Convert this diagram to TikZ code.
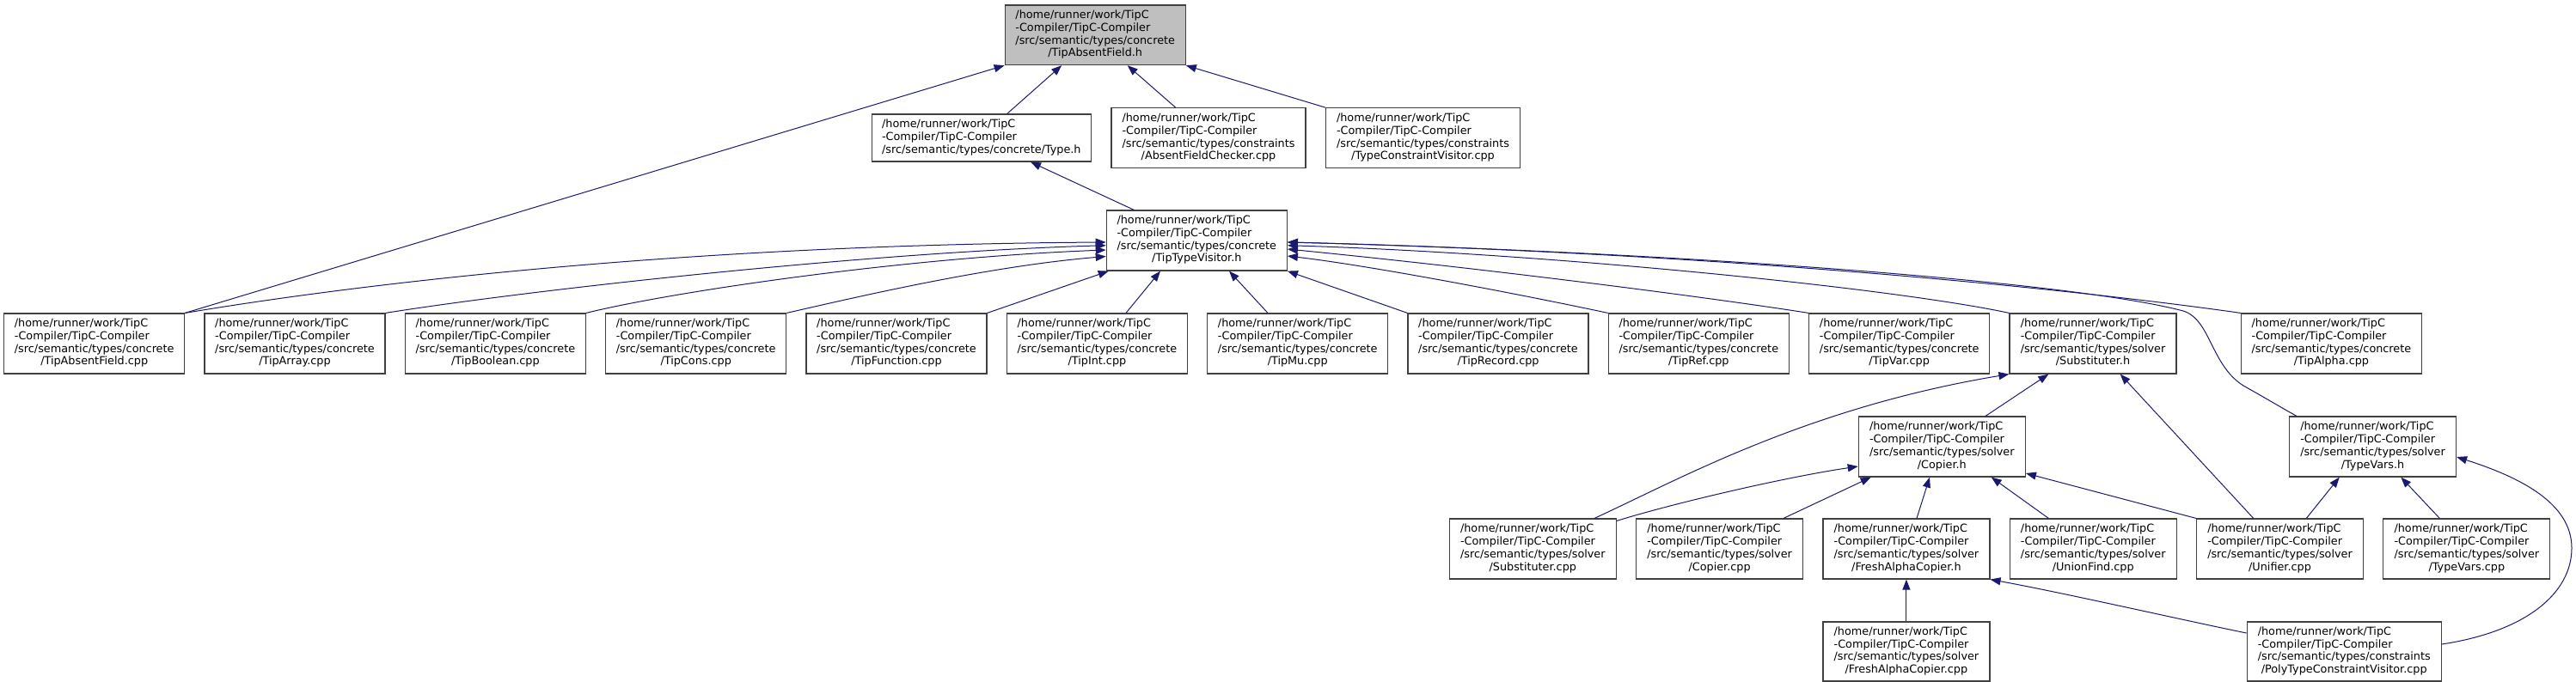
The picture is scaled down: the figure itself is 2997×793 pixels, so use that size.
\documentclass[tikz,border=0pt]{standalone}
\usepackage{fontspec}
\setmainfont{DejaVu Sans}
\usetikzlibrary{arrows.meta,calc}
\definecolor{edgeblue}{HTML}{191970}
\definecolor{boxline}{HTML}{404040}
\definecolor{boxgray}{HTML}{BFBFBF}
\newcommand\flab[2]{\begin{tabular}{@{}l@{}}/home/runner/work/TipC\\-Compiler/TipC-Compiler\\/src/semantic/types/#1\\\multicolumn{1}{@{}c@{}}{#2}\end{tabular}}
\begin{document}
\begin{tikzpicture}[x=1pt,y=-1pt,
  filebox/.style={draw=boxline, line width=1.2pt, fill=white, inner sep=0pt, minimum height=70pt, font=\fontsize{12.8}{14.7}\selectfont},
  cbox/.style={filebox, minimum width=210pt},
  sbox/.style={filebox, minimum width=194pt},
  kbox/.style={filebox, minimum width=226pt},
  dep/.style={draw=edgeblue, line width=1pt, -{Triangle[length=12pt,width=9pt]}}]
\useasboundingbox (0,0) rectangle (2997,793);
% top
\node[cbox, fill=boxgray, minimum height=69.5pt] (T) at (1274.2,40.8) {\flab{concrete}{/TipAbsentField.h}};
% second row
\node[filebox, minimum width=255pt, minimum height=55pt] (typeh) at (1141.8,160.5) {\begin{tabular}{@{}l@{}}/home/runner/work/TipC\\-Compiler/TipC-Compiler\\/src/semantic/types/concrete/Type.h\end{tabular}};
\node[kbox] (afc) at (1406,160.75) {\flab{constraints}{/AbsentFieldChecker.cpp}};
\node[kbox] (tcv) at (1655.5,160.75) {\flab{constraints}{/TypeConstraintVisitor.cpp}};
% visitor
\node[cbox] (V) at (1392.3,280) {\flab{concrete}{/TipTypeVisitor.h}};
% concrete row
\node[cbox] (tafc) at (109.7,400) {\flab{concrete}{/TipAbsentField.cpp}};
\node[cbox] (tarr) at (343.0,400) {\flab{concrete}{/TipArray.cpp}};
\node[cbox] (tbool) at (576.4,400) {\flab{concrete}{/TipBoolean.cpp}};
\node[cbox] (tcons) at (809.7,400) {\flab{concrete}{/TipCons.cpp}};
\node[cbox] (tfun) at (1043.0,400) {\flab{concrete}{/TipFunction.cpp}};
\node[cbox] (tint) at (1276.4,400) {\flab{concrete}{/TipInt.cpp}};
\node[cbox] (tmu) at (1509.7,400) {\flab{concrete}{/TipMu.cpp}};
\node[cbox] (trec) at (1743.0,400) {\flab{concrete}{/TipRecord.cpp}};
\node[cbox] (tref) at (1976.3,400) {\flab{concrete}{/TipRef.cpp}};
\node[cbox] (tvar) at (2209.7,400) {\flab{concrete}{/TipVar.cpp}};
\node[sbox] (subh) at (2435,400) {\flab{solver}{/Substituter.h}};
\node[cbox] (talpha) at (2712.4,400) {\flab{concrete}{/TipAlpha.cpp}};
% solver headers
\node[sbox] (coph) at (2259.3,520) {\flab{solver}{/Copier.h}};
\node[sbox] (tvh) at (2760.5,520) {\flab{solver}{/TypeVars.h}};
% solver row
\node[sbox] (subc) at (1783.3,639) {\flab{solver}{/Substituter.cpp}};
\node[sbox] (copc) at (2000.6,639) {\flab{solver}{/Copier.cpp}};
\node[sbox] (fach) at (2217.9,639) {\flab{solver}{/FreshAlphaCopier.h}};
\node[sbox] (ufc) at (2435.2,639) {\flab{solver}{/UnionFind.cpp}};
\node[sbox] (unif) at (2652.5,639) {\flab{solver}{/Unifier.cpp}};
\node[sbox] (tvc) at (2869.8,639) {\flab{solver}{/TypeVars.cpp}};
% bottom row
\node[sbox, minimum height=69pt] (facc) at (2217.9,758.5) {\flab{solver}{/FreshAlphaCopier.cpp}};
\node[kbox, minimum height=69pt] (ptcv) at (2727.2,758.5) {\flab{constraints}{/PolyTypeConstraintVisitor.cpp}};

% edges to TipAbsentField.h
\draw[dep] (tafc.north east) -- (T.south west);
\draw[dep] ($(typeh.north)+(29.9,0)$) -- ($(T.south)+(-39,0)$);
\draw[dep] ($(afc.north)+(-38.3,0)$) -- ($(T.south)+(37.5,0)$);
\draw[dep] (tcv.north west) -- (T.south east);
\draw[dep] ($(V.north)+(-73,0)$) -- ($(typeh.south)+(57.2,0)$);
% edges to TipTypeVisitor.h
\draw[dep] (tafc.north east) .. controls (420,330) and (800,285) .. ($(V.west)+(0,2)$);
\draw[dep] (tarr.north east) .. controls (600,340) and (1000,294) .. ($(V.west)+(0,5.7)$);
\draw[dep] (tbool.north east) .. controls (780,340) and (1050,300) .. ($(V.west)+(0,11)$);
\draw[dep] (tcons.north east) .. controls (1000,345) and (1150,310) .. ($(V.west)+(0,18.5)$);
\draw[dep] (tfun.north east) -- ($(V.south west)+(3,0)$);
\draw[dep] ($(tint.north)+(33.6,0)$) -- ($(V.south)+(-42.3,0)$);
\draw[dep] ($(tmu.north)+(-34.7,0)$) -- ($(V.south)+(37.7,0)$);
\draw[dep] (trec.north west) -- (V.south east);
\draw[dep] (tref.north west) .. controls (1780,345) and (1600,310) .. ($(V.east)+(0,18)$);
\draw[dep] (tvar.north west) .. controls (2000,348) and (1750,315) .. ($(V.east)+(0,10)$);
\draw[dep] (subh.north west) .. controls (2200,335) and (1800,295) .. ($(V.east)+(0,5.7)$);
\draw[dep] (talpha.north west) .. controls (2400,335) and (2000,295) .. ($(V.east)+(0,2)$);
\draw[dep] ($(tvh.north west)+(9,0)$) .. controls (2655,475) and (2635,463) .. (2610,449) .. controls (2572,425) and (2572,372) .. (2540,362) .. controls (2400,325) and (1900,292) .. ($(V.east)+(0,2)$);
% edges to Substituter.h
\draw[dep] ($(subc.north)+(71.7,0)$) .. controls (1950,560) and (2100,475) .. (subh.south west);
\draw[dep] ($(coph.north)+(50.7,0)$) -- ($(subh.south)+(-51.7,0)$);
\draw[dep] ($(unif.north)+(-30.8,0)$) -- ($(subh.south)+(31.7,0)$);
% edges to Copier.h
\draw[dep] ($(subc.north east)+(0,3)$) .. controls (1950,585) and (2080,555) .. ($(coph.west)+(0,23)$);
\draw[dep] ($(copc.north)+(74.4,0)$) -- ($(coph.south)+(-82.6,0)$);
\draw[dep] ($(fach.north)+(12.1,0)$) -- ($(coph.south)+(-14.3,0)$);
\draw[dep] ($(ufc.north)+(-51.9,0)$) -- ($(coph.south)+(57.4,0)$);
\draw[dep] (unif.north west) -- ($(coph.east)+(0,31)$);
% edges to FreshAlphaCopier.h
\draw[dep] (facc.north) -- (fach.south);
\draw[dep] ($(ptcv.west)+(0,-21.5)$) .. controls (2540,722) and (2400,690) .. (fach.south east);
% edges to TypeVars.h
\draw[dep] ($(unif.north)+(30.8,0)$) -- ($(tvh.south)+(-38.8,0)$);
\draw[dep] ($(tvc.north)+(-31.5,0)$) -- ($(tvh.south)+(32.8,0)$);
\draw[dep] ($(ptcv.east)+(0,-8.5)$) .. controls (2940,735) and (2992,690) .. (2992,638) .. controls (2992,585) and (2930,555) .. ($(tvh.east)+(0,12)$);
\end{tikzpicture}
\end{document}
